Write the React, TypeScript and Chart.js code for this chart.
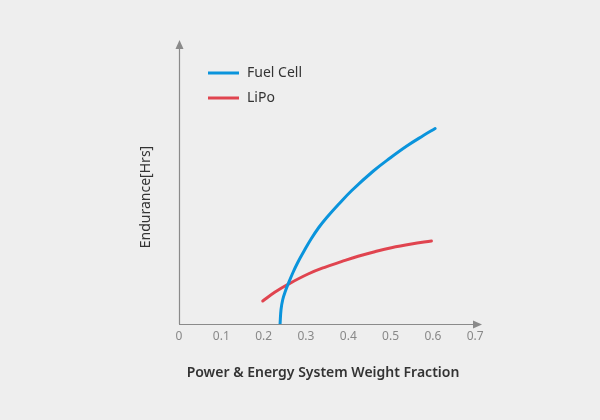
import React, { useEffect, useRef } from "react";
import { Chart, registerables } from "chart.js";

Chart.register(...registerables);

const xTicks = [0, 0.1, 0.2, 0.3, 0.4, 0.5, 0.6, 0.7];
const fuelCellX = [0.2388, 0.2411, 0.2452, 0.2513, 0.2584, 0.2688, 0.2806, 0.2962, 0.3121, 0.3303, 0.3492, 0.3766, 0.4083, 0.4593, 0.4988, 0.5383, 0.5775, 0.6052];
const fuelCellY = [0, 0.511, 0.863, 1.155, 1.426, 1.796, 2.165, 2.588, 2.993, 3.398, 3.75, 4.208, 4.701, 5.387, 5.845, 6.268, 6.637, 6.884];
const lipoX = [0.1979, 0.2262, 0.2577, 0.305, 0.3444, 0.3837, 0.4232, 0.4626, 0.5019, 0.5492, 0.5965];
const lipoY = [0.81, 1.116, 1.398, 1.761, 1.997, 2.194, 2.384, 2.546, 2.687, 2.817, 2.923];
const seriesLabels = ["Fuel Cell", "LiPo"];
const seriesColors = ["#0a94dc", "#e0444f"];
const xTitle = "Power & Energy System Weight Fraction";
const yTitle = "Endurance[Hrs]";

const FONT = "'Noto Sans', sans-serif";

const decorPlugin = {
  id: "decor",
  afterDraw(chart: any) {
    const { ctx, chartArea } = chart;
    const { left, right, top, bottom } = chartArea;
    ctx.save();
    ctx.strokeStyle = "#8a8a8a";
    ctx.fillStyle = "#8a8a8a";
    ctx.lineWidth = 1.2;
    // x axis
    ctx.beginPath();
    ctx.moveTo(left, bottom + 0.5);
    ctx.lineTo(right - 6, bottom + 0.5);
    ctx.stroke();
    ctx.beginPath();
    ctx.moveTo(right, bottom + 0.5);
    ctx.lineTo(right - 9, bottom - 3.5);
    ctx.lineTo(right - 9, bottom + 4.5);
    ctx.closePath();
    ctx.fill();
    // y axis
    ctx.beginPath();
    ctx.moveTo(left + 0.5, bottom);
    ctx.lineTo(left + 0.5, top + 6);
    ctx.stroke();
    ctx.beginPath();
    ctx.moveTo(left + 0.5, top);
    ctx.lineTo(left - 3.5, top + 9);
    ctx.lineTo(left + 4.5, top + 9);
    ctx.closePath();
    ctx.fill();

    // legend
    ctx.font = `14px ${FONT}`;
    ctx.textBaseline = "middle";
    chart.data.datasets.forEach((ds: any, i: number) => {
      const y = 73 + i * 25;
      ctx.strokeStyle = ds.borderColor;
      ctx.lineWidth = 3;
      ctx.beginPath();
      ctx.moveTo(208, y);
      ctx.lineTo(239, y);
      ctx.stroke();
      ctx.fillStyle = "#333333";
      ctx.textAlign = "left";
      ctx.fillText(ds.label, 247, y);
    });

    // axis titles
    ctx.fillStyle = "#333333";
    ctx.font = `600 14px ${FONT}`;
    ctx.textAlign = "center";
    ctx.textBaseline = "middle";
    ctx.fillText(xTitle, 323, 373);
    ctx.save();
    ctx.translate(146, 197);
    ctx.rotate(-Math.PI / 2);
    ctx.font = `14px ${FONT}`;
    ctx.fillText(yTitle, 0, 0);
    ctx.restore();
    ctx.restore();
  },
};

const bgPlugin = {
  id: "bg",
  beforeDraw(chart: any) {
    const { ctx, width, height } = chart;
    ctx.save();
    ctx.fillStyle = "#eeeeee";
    ctx.fillRect(0, 0, width, height);
    ctx.restore();
  },
};

export default function App() {
  const ref = useRef<HTMLCanvasElement | null>(null);
  useEffect(() => {
    if (!ref.current) return;
    const chart = new Chart(ref.current, {
      type: "line",
      data: {
        datasets: [
          {
            label: seriesLabels[0],
            data: fuelCellX.map((x, i) => ({ x, y: fuelCellY[i] })),
            borderColor: seriesColors[0],
            borderWidth: 3,
            pointRadius: 0,
            tension: 0.4,
            borderCapStyle: "round",
            borderJoinStyle: "round",
          },
          {
            label: seriesLabels[1],
            data: lipoX.map((x, i) => ({ x, y: lipoY[i] })),
            borderColor: seriesColors[1],
            borderWidth: 3,
            pointRadius: 0,
            tension: 0.4,
            borderCapStyle: "round",
            borderJoinStyle: "round",
          },
        ],
      },
      options: {
        animation: false,
        responsive: false,
        devicePixelRatio: 1,
        layout: { padding: { left: 179, right: 118, top: 40, bottom: 0 } },
        plugins: { legend: { display: false }, tooltip: { enabled: false } },
        scales: {
          x: {
            type: "linear",
            min: 0,
            max: 0.716,
            grid: { display: false, drawTicks: false },
            border: { display: false },
            afterBuildTicks: (scale: any) => {
              scale.ticks = xTicks.map((v) => ({ value: v }));
            },
            afterFit: (scale: any) => {
              scale.height = 96;
            },
            ticks: {
              padding: 5,
              color: "#888888",
              font: { family: FONT, size: 12 },
              callback: (v: any) => String(v),
            },
          },
          y: {
            display: false,
            min: 0,
            max: 10,
          },
        },
      },
      plugins: [bgPlugin, decorPlugin],
    });
    return () => chart.destroy();
  }, []);
  return (
    <div style={{ position: "fixed", left: 0, top: 0, width: 600, height: 420, background: "#eeeeee" }}>
      <canvas ref={ref} width={600} height={420} style={{ width: 600, height: 420, display: "block" }} />
    </div>
  );
}
